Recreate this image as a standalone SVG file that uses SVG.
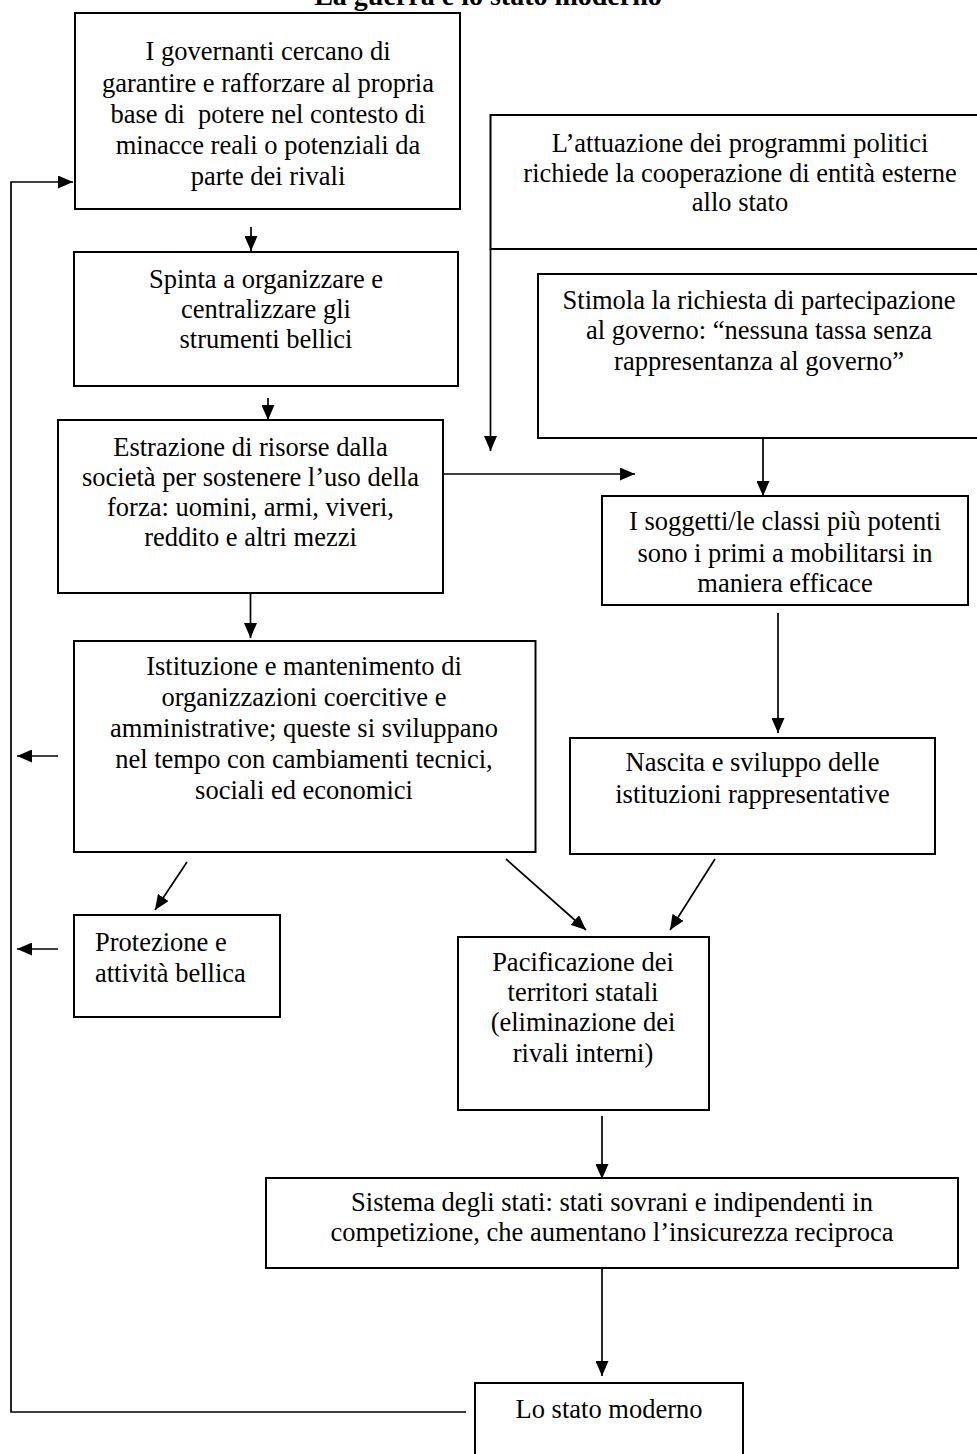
<svg xmlns="http://www.w3.org/2000/svg" width="977" height="1454" viewBox="0 0 977 1454">
  <style>
    .box { fill: #ffffff; stroke: #000000; stroke-width: 2; }
    .t { font-family: "Liberation Serif", "Times New Roman", serif; font-size: 26.5px; fill: #000000; text-anchor: middle; }
    .tl { text-anchor: start; }
    .title { font-family: "Liberation Serif", "Times New Roman", serif; font-size: 28px; font-weight: bold; fill: #000000; text-anchor: middle; }
    .ca { fill: none; stroke: #000000; stroke-width: 1.7; marker-end: url(#ah); }
  </style>
  <defs>
    <marker id="ah" markerUnits="userSpaceOnUse" markerWidth="15" markerHeight="13" refX="15" refY="6.5" orient="auto">
      <path d="M0,0 L15,6.5 L0,13 z" fill="#000000"/>
    </marker>
  </defs>

  <rect width="977" height="1454" fill="#ffffff"/>

  <text class="title" x="488" y="5">La guerra e lo stato moderno</text>

  <!-- connectors -->
  <g id="connectors">
    <polyline class="ca" points="466,1412 11,1412 11,182 73,182"/>
    <line class="ca" x1="251" y1="227" x2="251" y2="251"/>
    <line class="ca" x1="268" y1="398" x2="268" y2="420"/>
    <line class="ca" x1="443" y1="474" x2="635" y2="474"/>
    <line class="ca" x1="490.5" y1="249" x2="490.5" y2="451"/>
    <line class="ca" x1="763" y1="438" x2="763" y2="496"/>
    <line class="ca" x1="250.5" y1="593" x2="250.5" y2="638"/>
    <line class="ca" x1="778" y1="613" x2="778" y2="733"/>
    <line class="ca" x1="58" y1="756" x2="17" y2="756"/>
    <line class="ca" x1="187" y1="862" x2="155" y2="910"/>
    <line class="ca" x1="506" y1="859" x2="586" y2="930"/>
    <line class="ca" x1="715" y1="859" x2="670" y2="930"/>
    <line class="ca" x1="58" y1="949" x2="17" y2="949"/>
    <line class="ca" x1="602" y1="1116" x2="602" y2="1179"/>
    <line class="ca" x1="602" y1="1268" x2="602" y2="1376"/>
  </g>

  <g id="node-governanti">
    <rect class="box" x="75" y="13" width="385" height="196"/>
    <text class="t" x="268" y="60">I governanti cercano di</text>
    <text class="t" x="268" y="91.5">garantire e rafforzare al propria</text>
    <text class="t" x="268" y="123" xml:space="preserve">base di  potere nel contesto di</text>
    <text class="t" x="268" y="154">minacce reali o potenziali da</text>
    <text class="t" x="268" y="185">parte dei rivali</text>
  </g>

  <g id="node-spinta">
    <rect class="box" x="74" y="252" width="384" height="134"/>
    <text class="t" x="266" y="288">Spinta a organizzare e</text>
    <text class="t" x="266" y="318">centralizzare gli</text>
    <text class="t" x="266" y="348">strumenti bellici</text>
  </g>

  <g id="node-estrazione">
    <rect class="box" x="58" y="420" width="385" height="173"/>
    <text class="t" x="250.5" y="456">Estrazione di risorse dalla</text>
    <text class="t" x="250.5" y="486">società per sostenere l’uso della</text>
    <text class="t" x="250.5" y="516">forza: uomini, armi, viveri,</text>
    <text class="t" x="250.5" y="546">reddito e altri mezzi</text>
  </g>

  <g id="node-attuazione">
    <rect class="box" x="490.5" y="115" width="501" height="134"/>
    <text class="t" x="740" y="151.5">L’attuazione dei programmi politici</text>
    <text class="t" x="740" y="181.5">richiede la cooperazione di entità esterne</text>
    <text class="t" x="740" y="211">allo stato</text>
  </g>

  <g id="node-stimola">
    <rect class="box" x="538" y="274" width="442" height="164"/>
    <text class="t" x="759" y="309">Stimola la richiesta di partecipazione</text>
    <text class="t" x="759" y="339">al governo: “nessuna tassa senza</text>
    <text class="t" x="759" y="369.5">rappresentanza al governo”</text>
  </g>

  <g id="node-soggetti">
    <rect class="box" x="602" y="496" width="366" height="109"/>
    <text class="t" x="785" y="530">I soggetti/le classi più potenti</text>
    <text class="t" x="785" y="561.5">sono i primi a mobilitarsi in</text>
    <text class="t" x="785" y="591.5">maniera efficace</text>
  </g>

  <g id="node-istituzione">
    <rect class="box" x="74" y="641" width="461.5" height="211"/>
    <text class="t" x="304" y="675">Istituzione e mantenimento di</text>
    <text class="t" x="304" y="706">organizzazioni coercitive e</text>
    <text class="t" x="304" y="737">amministrative; queste si sviluppano</text>
    <text class="t" x="304" y="768">nel tempo con cambiamenti tecnici,</text>
    <text class="t" x="304" y="799">sociali ed economici</text>
  </g>

  <g id="node-nascita">
    <rect class="box" x="570" y="738" width="365" height="116"/>
    <text class="t" x="752.5" y="771">Nascita e sviluppo delle</text>
    <text class="t" x="752.5" y="803">istituzioni rappresentative</text>
  </g>

  <g id="node-protezione">
    <rect class="box" x="74" y="915" width="206" height="102"/>
    <text class="t tl" x="95" y="951">Protezione e</text>
    <text class="t tl" x="95" y="982">attività bellica</text>
  </g>

  <g id="node-pacificazione">
    <rect class="box" x="458" y="937" width="251" height="173"/>
    <text class="t" x="583" y="971">Pacificazione dei</text>
    <text class="t" x="583" y="1001">territori statali</text>
    <text class="t" x="583" y="1031">(eliminazione dei</text>
    <text class="t" x="583" y="1062">rivali interni)</text>
  </g>

  <g id="node-sistema">
    <rect class="box" x="266" y="1178" width="692" height="90"/>
    <text class="t" x="612" y="1211">Sistema degli stati: stati sovrani e indipendenti in</text>
    <text class="t" x="612" y="1241">competizione, che aumentano l’insicurezza reciproca</text>
  </g>

  <g id="node-stato-moderno">
    <rect class="box" x="475" y="1383" width="268" height="90"/>
    <text class="t" x="609" y="1418">Lo stato moderno</text>
  </g>
</svg>
